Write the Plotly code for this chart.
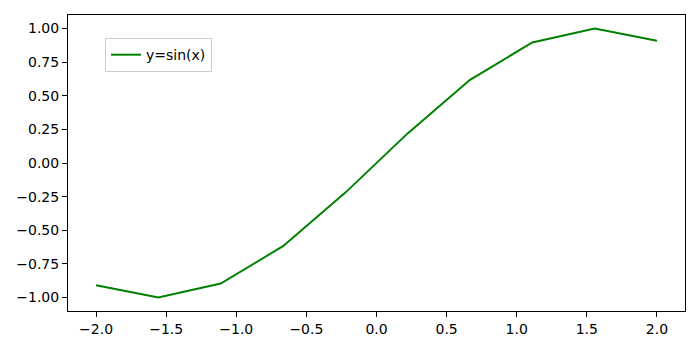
import plotly.graph_objects as go

x_vals = [-2.0, -1.556, -1.111, -0.667, -0.222, 0.222, 0.667, 1.111, 1.556, 2.0]
y_vals = [-0.909, -0.999, -0.896, -0.618, -0.220, 0.220, 0.618, 0.896, 0.999, 0.909]
series_name = "y=sin(x)"
x_ticks = [-2.0, -1.5, -1.0, -0.5, 0.0, 0.5, 1.0, 1.5, 2.0]
y_ticks = [-1.0, -0.75, -0.5, -0.25, 0.0, 0.25, 0.5, 0.75, 1.0]

fig = go.Figure()
fig.add_trace(go.Scatter(x=x_vals, y=y_vals, mode="lines", name=series_name,
                         line=dict(color="#008000", width=2)))

axis_common = dict(showline=True, mirror=True, linecolor="black", linewidth=1,
                   ticks="outside", ticklen=5, tickcolor="black", tickwidth=1,
                   showgrid=False, zeroline=False,
                   tickfont=dict(family="DejaVu Sans", size=14, color="black"))
fig.update_xaxes(range=[-2.2, 2.2], tickvals=x_ticks,
                 ticktext=[f"{v:.1f}".replace("-", "\u2212") for v in x_ticks], **axis_common)
fig.update_yaxes(range=[-1.1, 1.1], tickvals=y_ticks,
                 ticktext=[f"{v:.2f}".replace("-", "\u2212") for v in y_ticks], **axis_common)

fig.update_layout(width=700, height=350, margin=dict(l=68, r=15, t=15, b=39),
                  plot_bgcolor="white", paper_bgcolor="white",
                  showlegend=True,
                  legend=dict(x=0.06, y=0.922, xanchor="left", yanchor="top",
                              bgcolor="white", bordercolor="#cccccc", borderwidth=1,
                              font=dict(family="DejaVu Sans", size=14, color="black")),
                  font=dict(family="DejaVu Sans"))

fig.write_html("out.html")
